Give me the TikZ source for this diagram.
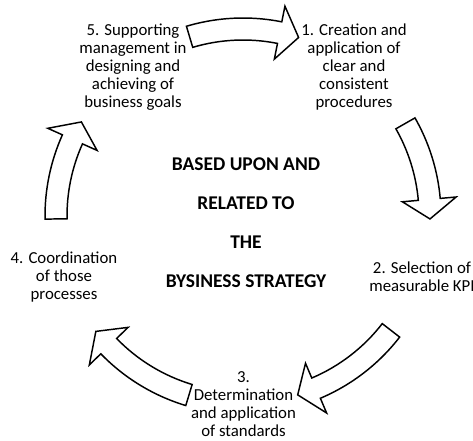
\documentclass[tikz,border=0pt]{standalone}
\usepackage{fontspec}
\setmainfont{Carlito}
\usetikzlibrary{calc}
\tikzset{
  blockarrow/.style={draw=black, fill=white, line width=1.1pt, line join=miter},
  steptext/.style={inner sep=0pt, align=center, font=\fontsize{12.6}{13.5}\selectfont},
  centertext/.style={inner sep=0pt, align=center, font=\bfseries\fontsize{14.6}{29.2}\selectfont}
}
\newcommand{\curvedarrow}[2]{%
  \pgfmathsetmacro\headang{#2+6}%
  \draw[blockarrow] ($(C)+(#1:198)$) arc[start angle=#1, end angle=\headang, radius=198]
    -- ($(C)+(\headang:214)$) -- ($(C)+(#2:187)$) -- ($(C)+(\headang:160)$)
    -- ($(C)+(\headang:176)$) arc[start angle=\headang, end angle=#1, radius=176] -- cycle;
}
\begin{document}
\begin{tikzpicture}[x=0.75pt, y=0.75pt]
\useasboundingbox (0,0) rectangle (473,-440);
\coordinate (C) at (243,-216);
\curvedarrow{106.6}{72.7}
\curvedarrow{29.7}{-0.9}
\curvedarrow{-37.7}{-73}
\curvedarrow{-106.8}{-141.9}
\curvedarrow{180.9}{149.8}
\node[steptext] (n5) at (133,-67) {5. Supporting\\management in\\designing and\\achieving of\\business goals};
\node[steptext] (n1) at (354,-67) {1. Creation and\\application of\\clear and\\consistent\\procedures};
\node[steptext] (n2) at (422,-277) {2. Selection of\\measurable KPI};
\node[steptext] (n3) at (243.5,-404) {3.\\Determination\\and application\\of standards};
\node[steptext] (n4) at (64,-277) {4. Coordination\\of those\\processes};
\node[centertext] (mid) at (246,-223) {BASED UPON AND\\RELATED TO\\THE\\BYSINESS STRATEGY};
\end{tikzpicture}
\end{document}
